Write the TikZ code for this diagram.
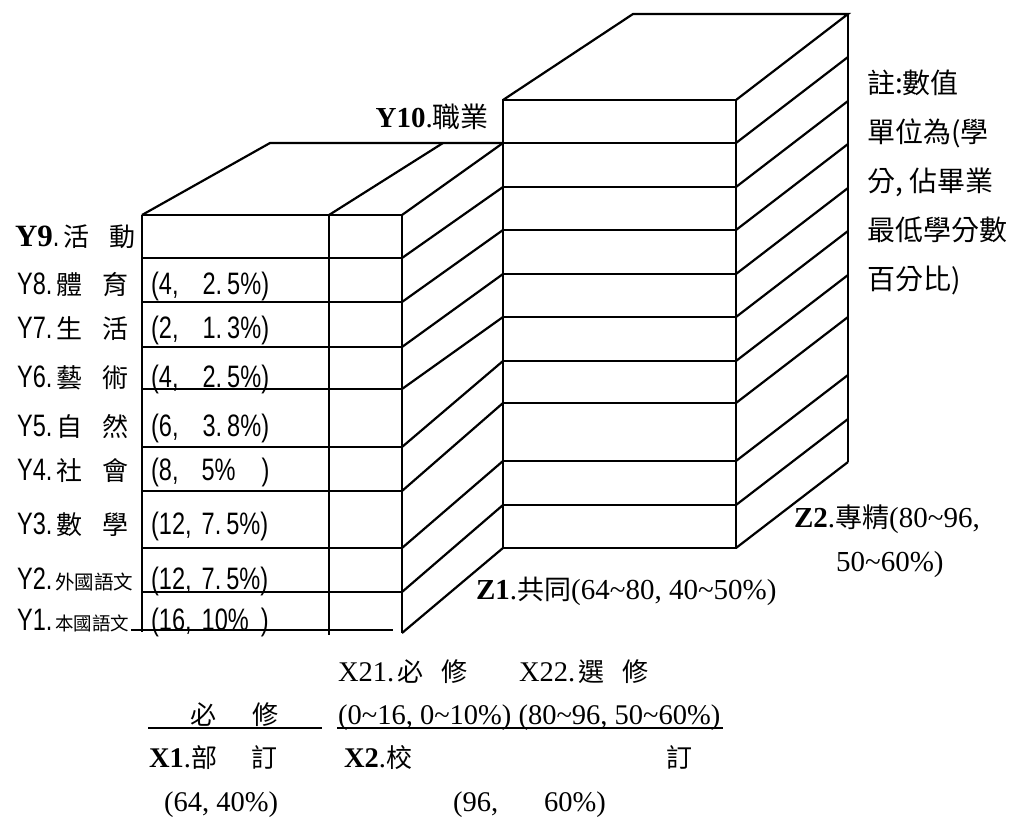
\documentclass[tikz,border=0pt]{standalone}
\usepackage{fontspec}
\setmainfont{Liberation Serif}
\newfontfamily\cjkf{Noto Sans CJK TC}
\newfontfamily\nsans[FakeStretch=0.76]{Liberation Sans}
\newcommand{\ck}[2][26]{{\cjkf\fontsize{#1}{#1}\selectfont #2}}
\newcommand{\tildech}{{\char"7E}}
\begin{document}
\begin{tikzpicture}[x=1pt,y=-1pt,line width=2.2pt,line join=miter,
  ylab/.style={anchor=base west,inner sep=0pt,font=\nsans\fontsize{31}{33}\selectfont},
  val/.style={anchor=base west,inner sep=0pt,font=\nsans\fontsize{31}{33}\selectfont},
  tlab/.style={anchor=base west,inner sep=0pt,font=\fontsize{28.5}{30}\selectfont},
  note/.style={anchor=base west,inner sep=0pt,font=\cjkf\fontsize{28}{30}\selectfont},
  uline/.style={line width=1.8pt}]
\useasboundingbox (0,0) rectangle (1015,818);

% ---------- left block (X1 / X21 columns) ----------
\coordinate (LA) at (142,215);
\coordinate (LB) at (329,215);
\coordinate (LC) at (402,215);
\coordinate (LBA) at (270,143);
\coordinate (LBB) at (443,143);
\coordinate (LBC) at (503,143);
\draw (LA) -- (LC);
\draw (LA) -- (LBA) -- (LBC);
\draw (LB) -- (LBB);
\draw (LC) -- (LBC);
\foreach \y in {258,302,347,389,447,491,548,592}
  \draw (142,\y) -- (402,\y);
\draw (131,630) -- (393,630);
\draw (LA) -- (142,632);
\draw (LB) -- (329,635);
\draw (LC) -- (402,633);
\foreach \a/\b in {258/187,302/230,347/274,389/317,447/361,491/403,548/461,592/505,633/548}
  \draw (402,\a) -- (503,\b);

% ---------- big block (X22 column) ----------
\coordinate (BA) at (503,100);
\coordinate (BB) at (736,100);
\coordinate (BC) at (633,14);
\coordinate (BD) at (848,14);
\draw (BA) rectangle (736,548);
\draw (BA) -- (BC) -- (BD) -- (BB);
\draw (BD) -- (848,462);
\foreach \y in {143,187,230,274,317,361,403,461,505}
  \draw (503,\y) -- (736,\y);
\foreach \y in {143,187,230,274,317,361,403,461,505,548}
  \draw (736,\y) -- (848,\y-86);

% ---------- Y labels ----------
\node[ylab] (y9) at (14,247) {{\rmfamily\bfseries Y9}.\hspace{4pt}\ck{活}\hspace{20pt}\ck{動}};
\node[ylab] (y8) at (16,295) {Y8.\hspace{4pt}\ck{體}\hspace{20pt}\ck{育}};
\node[ylab] (y7) at (16,339) {Y7.\hspace{4pt}\ck{生}\hspace{20pt}\ck{活}};
\node[ylab] (y6) at (16,388) {Y6.\hspace{4pt}\ck{藝}\hspace{20pt}\ck{術}};
\node[ylab] (y5) at (16,436) {Y5.\hspace{4pt}\ck{自}\hspace{20pt}\ck{然}};
\node[ylab] (y4) at (16,480) {Y4.\hspace{4pt}\ck{社}\hspace{20pt}\ck{會}};
\node[ylab] (y3) at (16,534) {Y3.\hspace{4pt}\ck{數}\hspace{20pt}\ck{學}};
\node[ylab] (y2) at (16,589) {Y2.\hspace{3pt}\ck[19.5]{外國語文}};
\node[ylab] (y1) at (16,630) {Y1.\hspace{3pt}\ck[18.5]{本國語文}};

% ---------- values ----------
\node[val] (v8) at (150,295) {(4,\hspace{24pt}2.\hspace{5pt}5\%)};
\node[val] (v7) at (150,339) {(2,\hspace{24pt}1.\hspace{5pt}3\%)};
\node[val] (v6) at (150,388) {(4,\hspace{24pt}2.\hspace{5pt}5\%)};
\node[val] (v5) at (150,436) {(6,\hspace{24pt}3.\hspace{5pt}8\%)};
\node[val] (v4) at (150,480) {(8,\hspace{23pt}5\%\hspace{26pt})};
\node[val] (v3) at (150,534) {(12,\hspace{10pt}7.\hspace{5pt}5\%)};
\node[val] (v2) at (150,589) {(12,\hspace{10pt}7.\hspace{5pt}5\%)};
\node[val] (v1) at (150,630) {(16,\hspace{10pt}10\%\hspace{12pt})};

% ---------- Y10 ----------
\node[tlab,anchor=base east,font=\fontsize{29}{31}\selectfont] (y10) at (490,128) {\textbf{Y10}.\ck[28]{職業}};

% ---------- note ----------
\node[note] (n1) at (866,94) {註:數值};
\node[note] (n2) at (866,143) {單位為(學};
\node[note] (n3) at (866,192) {分, 佔畢業};
\node[note] (n4) at (866,241) {最低學分數};
\node[note] (n5) at (866,290) {百分比)};

% ---------- Z labels ----------
\node[tlab,font=\fontsize{29}{31}\selectfont] (z2a) at (793,527) {\textbf{Z2}.\ck[27]{專精}(80\tildech96,};
\node[tlab,font=\fontsize{29}{31}\selectfont] (z2b) at (835,571) {50\tildech60\%)};
\node[tlab,font=\fontsize{29}{31}\selectfont] (z1) at (475,599) {\textbf{Z1}.\ck[27]{共同}(64\tildech80, 40\tildech50\%)};

% ---------- bottom labels ----------
\node[tlab] (x21) at (337,681) {X21.\hspace{3pt}\ck{必}\hspace{18pt}\ck{修}};
\node[tlab] (x22) at (518,681) {X22.\hspace{3pt}\ck{選}\hspace{18pt}\ck{修}};
\node[tlab] (bx) at (189,724) {\ck{必}\hspace{36pt}\ck{修}};
\node[tlab] (rng) at (337,724) {(0\tildech16, 0\tildech10\%) (80\tildech96, 50\tildech60\%)};
\draw[uline] (148,728) -- (322,728);
\draw[uline] (337,728) -- (723,728);
\node[tlab] (x1) at (148,767) {\textbf{X1}.\ck{部}\hspace{34pt}\ck{訂}};
\node[tlab] (x2) at (343,767) {\textbf{X2}.\ck{校}};
\node[tlab,anchor=base] (x2d) at (679,767) {\ck{訂}};
\node[tlab] (p1) at (163,811) {(64, 40\%)};
\node[tlab] (p2) at (452,811) {(96,\hspace{46pt}60\%)};
\end{tikzpicture}
\end{document}
